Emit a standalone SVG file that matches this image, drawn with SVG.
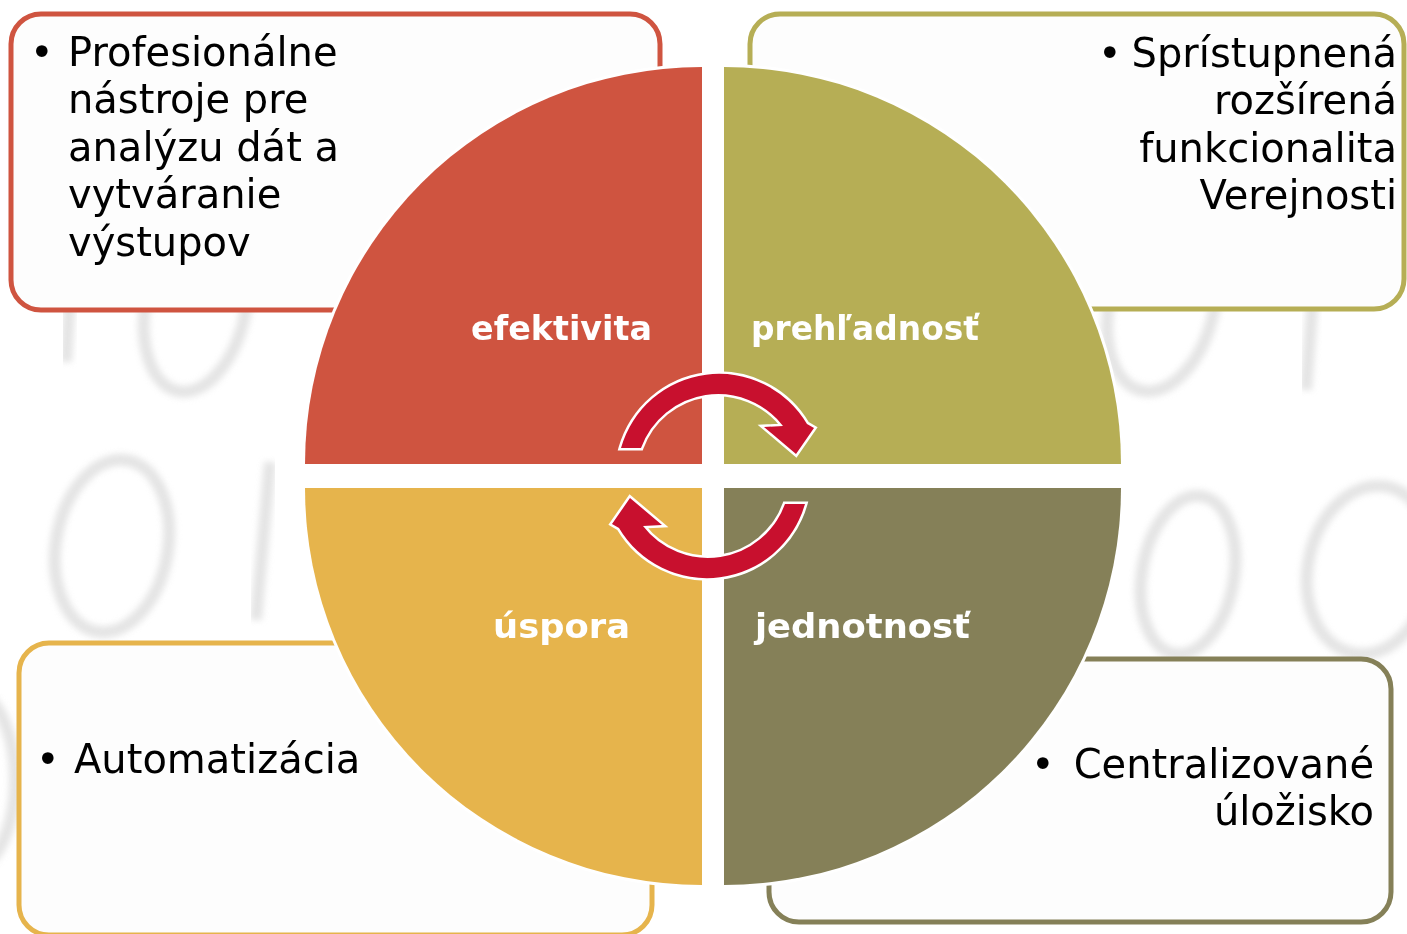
<svg xmlns="http://www.w3.org/2000/svg" width="1407" height="934" viewBox="0 0 1407 934">
  <defs>
    <filter id="blur" x="-30%" y="-30%" width="160%" height="160%">
      <feGaussianBlur stdDeviation="3.2"/>
    </filter>
    <style>
      .digit { fill: none; stroke: #d6d6d6; stroke-width: 12; filter: url(#blur); }
      .box { fill: #fdfdfd; stroke-width: 5; }
      .quad { stroke: #ffffff; stroke-width: 6; paint-order: stroke fill; }
      .label { font-family: "DejaVu Sans", "Liberation Sans", sans-serif; font-weight: bold; font-size: 33px; fill: #ffffff; }
      .body { font-family: "DejaVu Sans", "Liberation Sans", sans-serif; font-size: 40px; fill: #000000; }
      .arrow { fill: #c8102e; stroke: #ffffff; stroke-width: 5; stroke-linejoin: miter; paint-order: stroke fill; }
    </style>
  </defs>

  <rect width="1407" height="934" fill="#ffffff"/>

  <!-- faint background binary digits -->
  <g id="background-digits" opacity="0.65">
    <line class="digit" x1="74" y1="230" x2="66" y2="362"/>
    <ellipse class="digit" cx="196" cy="305" rx="50" ry="88" transform="rotate(12 196 305)"/>
    <ellipse class="digit" cx="1162" cy="305" rx="52" ry="88" transform="rotate(14 1162 305)"/>
    <line class="digit" x1="1318" y1="230" x2="1306" y2="390"/>
    <ellipse class="digit" cx="112" cy="546" rx="56" ry="87" transform="rotate(10 112 546)"/>
    <line class="digit" x1="270" y1="462" x2="256" y2="620"/>
    <ellipse class="digit" cx="1188" cy="575" rx="46" ry="80" transform="rotate(10 1188 575)"/>
    <ellipse class="digit" cx="1370" cy="570" rx="62" ry="85" transform="rotate(12 1370 570)"/>
    <ellipse class="digit" cx="-30" cy="780" rx="45" ry="90"/>
  </g>

  <!-- corner boxes -->
  <g id="box-top-left">
    <rect class="box" x="11" y="14" width="649" height="296" rx="30" stroke="#cf5440"/>
  </g>
  <g id="box-top-right">
    <rect class="box" x="750" y="14" width="654" height="295" rx="30" stroke="#b6ae55"/>
  </g>
  <g id="box-bottom-left">
    <rect class="box" x="19" y="643" width="633" height="292" rx="30" stroke="#e6b44c"/>
  </g>
  <g id="box-bottom-right">
    <rect class="box" x="769" y="659" width="622" height="263" rx="30" stroke="#858058"/>
  </g>

  <!-- quadrants -->
  <g id="quadrant-efektivita">
    <path class="quad" d="M702,464 L305,464 A397,397 0 0 1 702,67 Z" fill="#cf5440"/>
    <text class="label" x="471" y="340" textLength="181" lengthAdjust="spacingAndGlyphs">efektivita</text>
  </g>
  <g id="quadrant-prehladnost">
    <path class="quad" d="M724,464 L724,67 A397,397 0 0 1 1121,464 Z" fill="#b6ae55"/>
    <text class="label" x="751" y="340" textLength="228" lengthAdjust="spacingAndGlyphs">prehľadnosť</text>
  </g>
  <g id="quadrant-jednotnost">
    <path class="quad" d="M724,488 L1121,488 A397,397 0 0 1 724,885 Z" fill="#858058"/>
    <text class="label" x="755" y="638" textLength="215" lengthAdjust="spacingAndGlyphs">jednotnosť</text>
  </g>
  <g id="quadrant-uspora">
    <path class="quad" d="M702,488 L702,885 A397,397 0 0 1 305,488 Z" fill="#e6b44c"/>
    <text class="label" x="493" y="638" textLength="137" lengthAdjust="spacingAndGlyphs">úspora</text>
  </g>

  <!-- cycle arrows -->
  <g id="connectors">
    <path class="arrow" d="M621,448 A102,102 0 0 1 807,424 L814,428 L796,454 L764,427 L783,426 A82,82 0 0 0 641,448 Z"/>
    <path class="arrow" d="M621,448 A102,102 0 0 1 807,424 L814,428 L796,454 L764,427 L783,426 A82,82 0 0 0 641,448 Z" transform="rotate(180 713 476)"/>
  </g>

  <!-- box texts -->
  <g id="text-top-left">
    <text class="body" x="30" y="66">•</text>
    <text class="body" x="68" y="66">Profesionálne</text>
    <text class="body" x="68" y="113">nástroje pre</text>
    <text class="body" x="68" y="161">analýzu dát a</text>
    <text class="body" x="68" y="208">vytváranie</text>
    <text class="body" x="68" y="256">výstupov</text>
  </g>
  <g id="text-top-right">
    <text class="body" x="1098" y="67">•</text>
    <text class="body" x="1397" y="67" text-anchor="end">Sprístupnená</text>
    <text class="body" x="1397" y="114" text-anchor="end">rozšírená</text>
    <text class="body" x="1397" y="162" text-anchor="end">funkcionalita</text>
    <text class="body" x="1397" y="209" text-anchor="end">Verejnosti</text>
  </g>
  <g id="text-bottom-left">
    <text class="body" x="36" y="773">•</text>
    <text class="body" x="74" y="773">Automatizácia</text>
  </g>
  <g id="text-bottom-right">
    <text class="body" x="1031" y="778">•</text>
    <text class="body" x="1374" y="778" text-anchor="end">Centralizované</text>
    <text class="body" x="1374" y="825" text-anchor="end">úložisko</text>
  </g>
</svg>
